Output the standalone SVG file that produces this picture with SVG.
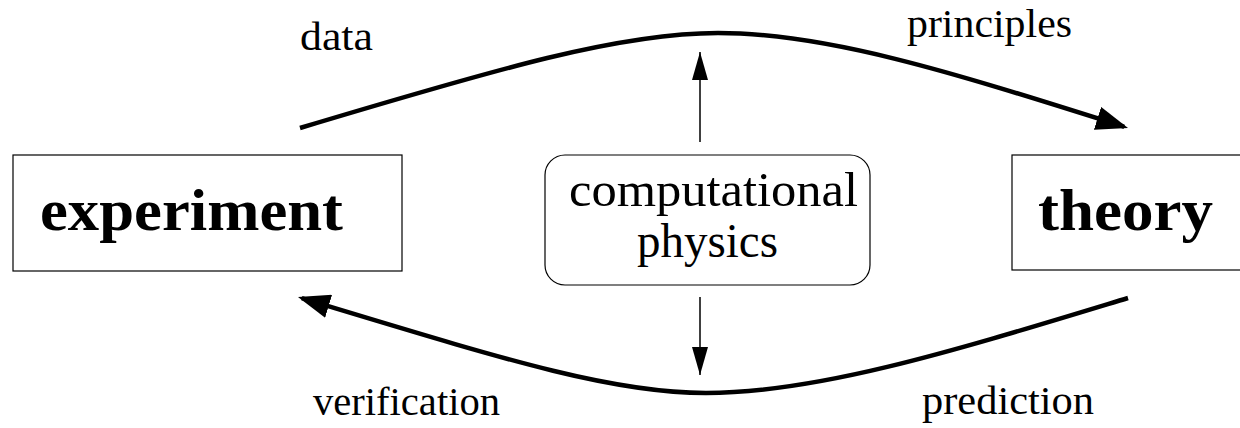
<svg xmlns="http://www.w3.org/2000/svg" width="1240" height="428" viewBox="0 0 1240 428">
<style>
  .box { fill: #ffffff; stroke: #000000; stroke-width: 1.2; }
  .big { font-family: "Liberation Serif", "DejaVu Serif", serif; font-weight: bold; font-size: 60px; fill: #000; }
  .mid { font-family: "Liberation Serif", "DejaVu Serif", serif; font-size: 48px; fill: #000; }
  .lbl { font-family: "Liberation Serif", "DejaVu Serif", serif; font-size: 40px; fill: #000; }
  .thick { fill: none; stroke: #000; stroke-width: 4.5; }
  .thin { fill: none; stroke: #000; stroke-width: 1.5; }
</style>
<defs>
  <marker id="bigHead" markerUnits="userSpaceOnUse" viewBox="0 0 32 24" markerWidth="32" markerHeight="24" refX="28" refY="12" orient="auto">
    <path d="M0,0 L32,12 L0,24 z" fill="#000"/>
  </marker>
  <marker id="smallHead" markerUnits="userSpaceOnUse" viewBox="0 0 28 16" markerWidth="28" markerHeight="16" refX="28" refY="8" orient="auto">
    <path d="M0,0 L28,8 L0,16 z" fill="#000"/>
  </marker>
</defs>
<rect width="1240" height="428" fill="#ffffff"/>
<g id="connectors">
  <path class="thick" d="M300,128 C500,68 620,33 718,33 C830,33 960,75 1124.2,126.8" marker-end="url(#bigHead)"/>
  <path class="thick" d="M1128,298 C960,349 820,393 706,393 C610,393 500,358 301.8,298.2" marker-end="url(#bigHead)"/>
  <path class="thin" d="M700,142 L700,52" marker-end="url(#smallHead)"/>
  <path class="thin" d="M700,297 L700,375" marker-end="url(#smallHead)"/>
</g>
<g id="experiment">
  <rect class="box" x="13" y="155" width="389" height="116"/>
  <text class="big" x="40" y="230" textLength="303" lengthAdjust="spacingAndGlyphs">experiment</text>
</g>
<g id="theory">
  <rect class="box" x="1012" y="155" width="240" height="115"/>
  <text class="big" x="1038" y="230" textLength="175" lengthAdjust="spacingAndGlyphs">theory</text>
</g>
<g id="computational-physics">
  <rect class="box" x="545" y="155" width="325" height="130" rx="20" ry="20"/>
  <text class="mid" x="569" y="206" textLength="289" lengthAdjust="spacingAndGlyphs">computational</text>
  <text class="mid" x="637" y="257" textLength="141" lengthAdjust="spacingAndGlyphs">physics</text>
</g>
<g id="labels">
  <text class="lbl" x="300" y="50" textLength="73" lengthAdjust="spacingAndGlyphs">data</text>
  <text class="lbl" x="907" y="37" textLength="165" lengthAdjust="spacingAndGlyphs">principles</text>
  <text class="lbl" x="313" y="415" textLength="187" lengthAdjust="spacingAndGlyphs">verification</text>
  <text class="lbl" x="922" y="414" textLength="172" lengthAdjust="spacingAndGlyphs">prediction</text>
</g>
</svg>
